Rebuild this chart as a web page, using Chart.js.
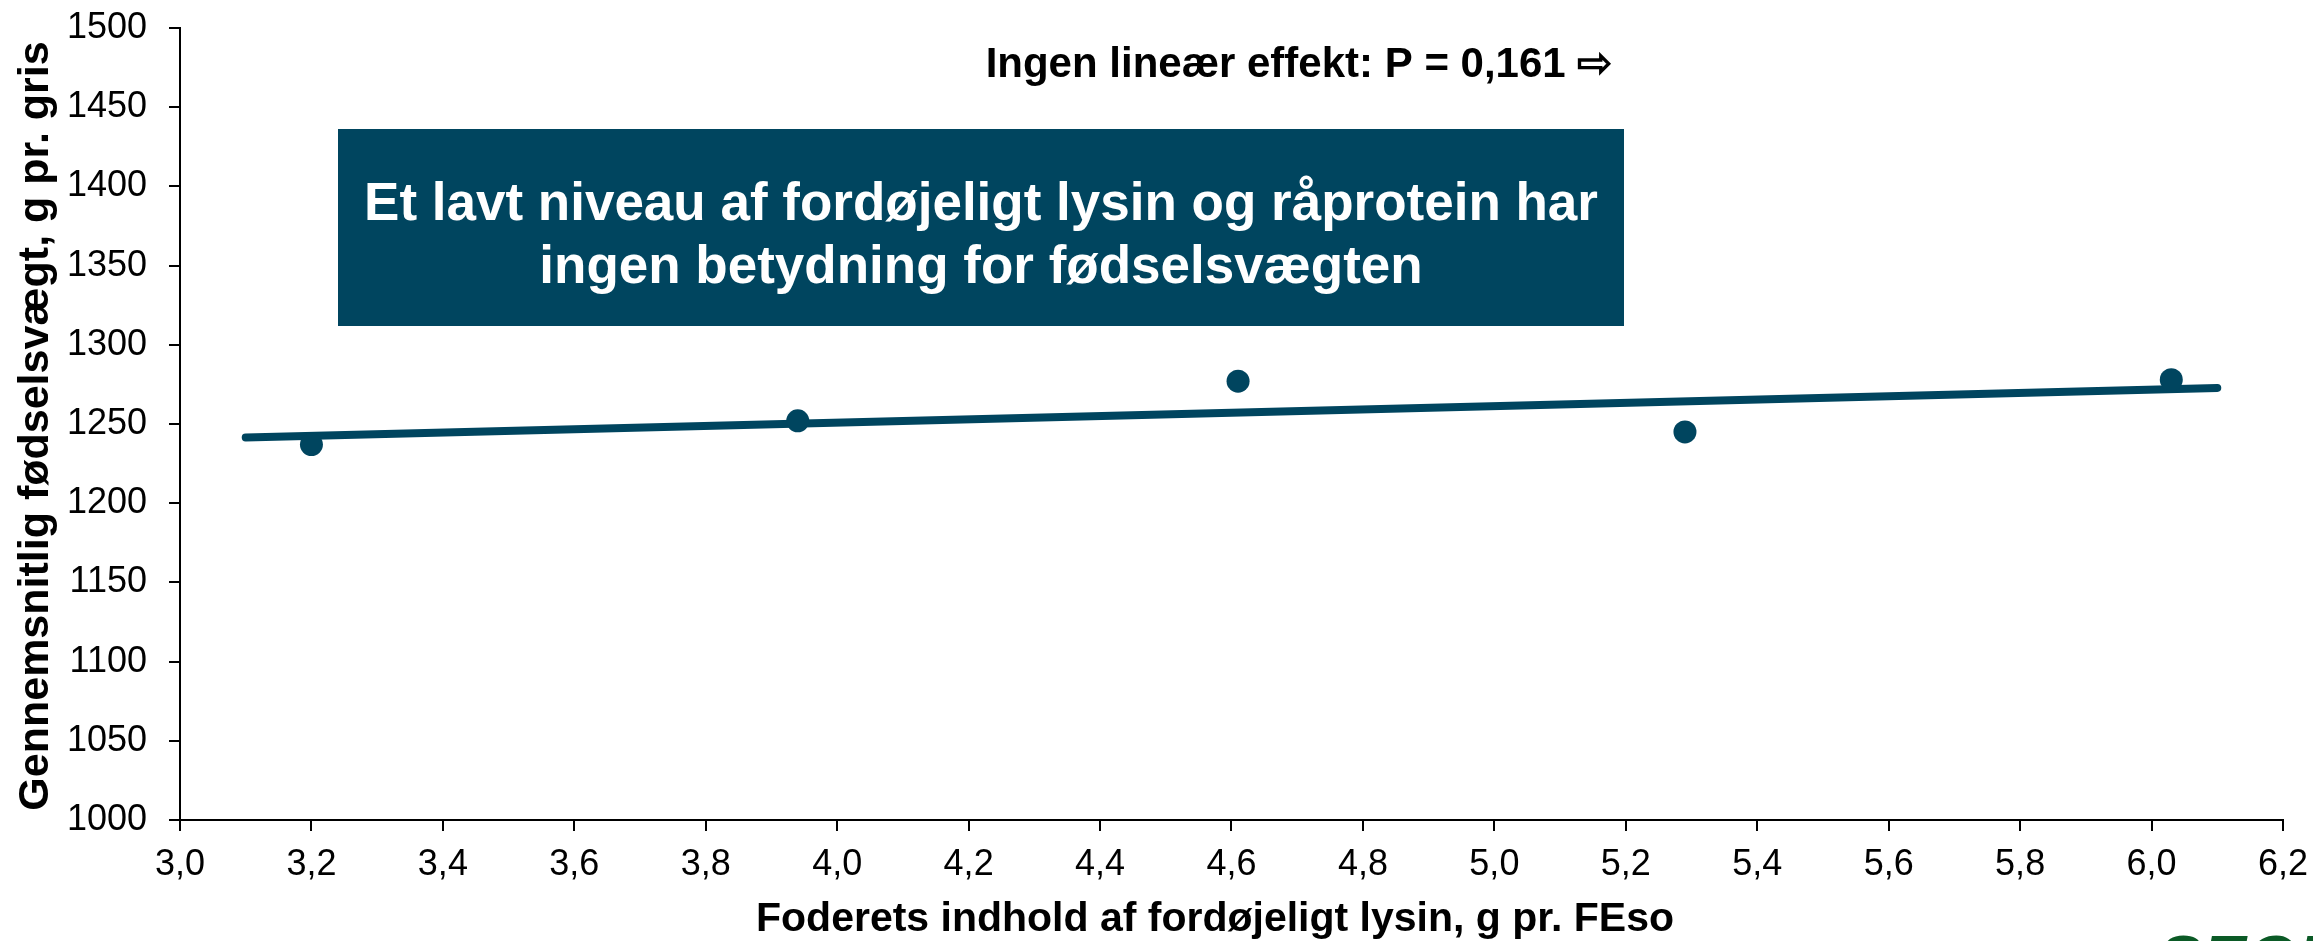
<!DOCTYPE html>
<html>
<head>
<meta charset="utf-8">
<script src="https://cdn.jsdelivr.net/npm/chart.js@4.4.1/dist/chart.umd.min.js"></script>
<style>
  html, body { margin: 0; padding: 0; background: #ffffff; }
  canvas { display: block; }
</style>
</head>
<body>
<canvas id="c" width="2313" height="941"></canvas>
<script>
// ---- data ----
const lysinX = [3.20, 3.94, 4.61, 5.29, 6.03];
const weightY = [1237, 1252, 1277, 1245, 1278];
const trendX = [3.1, 6.1];
const trendY = [1241.5, 1272.8];
const xTickLabels = ['3,0','3,2','3,4','3,6','3,8','4,0','4,2','4,4','4,6','4,8','5,0','5,2','5,4','5,6','5,8','6,0','6,2'];
const yTickLabels = ['1000','1050','1100','1150','1200','1250','1300','1350','1400','1450','1500'];
const xTitle = 'Foderets indhold af fordøjeligt lysin, g pr. FEso';
const yTitle = 'Gennemsnitlig fødselsvægt, g pr. gris';
const noteText = 'Ingen lineær effekt: P = 0,161 ⇨';
const boxLines = ['Et lavt niveau af fordøjeligt lysin og råprotein har', 'ingen betydning for fødselsvægten'];
const logoText = 'SEGES';

const BLUE = '#00455F';
const FONT = '"Liberation Sans", Arial, sans-serif';

const pointData = lysinX.map((x, i) => ({ x: x, y: weightY[i] }));
const trendData = trendX.map((x, i) => ({ x: x, y: trendY[i] }));

const overlay = {
  id: 'overlay',
  afterDraw(chart) {
    const ctx = chart.ctx;
    ctx.save();
    // annotation box
    ctx.fillStyle = BLUE;
    ctx.fillRect(338, 129, 1286, 197);
    ctx.fillStyle = '#ffffff';
    ctx.font = 'bold 53px ' + FONT;
    ctx.textAlign = 'center';
    ctx.textBaseline = 'alphabetic';
    ctx.fillText(boxLines[0], 981, 220);
    ctx.fillText(boxLines[1], 981, 283);
    // note text
    ctx.fillStyle = '#000000';
    ctx.font = 'bold 42px ' + FONT;
    ctx.fillText(noteText, 1299, 77);
    // x title
    ctx.font = 'bold 41px ' + FONT;
    ctx.fillText(xTitle, 1215, 931);
    // y title
    ctx.save();
    ctx.translate(48, 426);
    ctx.rotate(-Math.PI / 2);
    ctx.font = 'bold 43px ' + FONT;
    ctx.textAlign = 'center';
    ctx.fillText(yTitle, 0, 0);
    ctx.restore();
    // logo (cut off at bottom)
    ctx.fillStyle = '#0B5A26';
    ctx.font = 'italic bold 66px ' + FONT;
    ctx.textAlign = 'left';
    ctx.textBaseline = 'top';
    ctx.fillText(logoText, 2158, 931);
    ctx.restore();
  }
};

new Chart(document.getElementById('c'), {
  type: 'scatter',
  data: {
    datasets: [
      {
        label: 'Fødselsvægt',
        data: pointData,
        backgroundColor: BLUE,
        borderColor: BLUE,
        pointRadius: 11.5,
        pointHoverRadius: 11.5,
        pointBorderWidth: 0,
        showLine: false,
        order: 1
      },
      {
        label: 'Trend',
        data: trendData,
        borderColor: BLUE,
        backgroundColor: BLUE,
        borderWidth: 8,
        borderCapStyle: 'round',
        pointRadius: 0,
        showLine: true,
        fill: false,
        order: 2
      }
    ]
  },
  options: {
    responsive: false,
    devicePixelRatio: 1,
    animation: false,
    layout: { padding: { left: 0, right: 30, top: 28, bottom: 0 } },
    plugins: { legend: { display: false }, tooltip: { enabled: false } },
    scales: {
      x: {
        type: 'linear',
        position: 'bottom',
        min: 3.0,
        max: 6.2,
        afterFit(scale) { scale.height = 121; scale.paddingLeft = 0; scale.paddingRight = 0; },
        afterBuildTicks(scale) {
          scale.ticks = xTickLabels.map((t, i) => ({ value: 3.0 + i * 0.2 }));
        },
        ticks: {
          autoSkip: false,
          maxRotation: 0,
          padding: 12,
          color: '#000000',
          font: { family: FONT, size: 36 },
          callback: (v, i) => xTickLabels[i]
        },
        grid: { drawOnChartArea: false, drawTicks: true, tickLength: 11, tickColor: '#000000', lineWidth: 2 },
        border: { display: true, color: '#000000', width: 2 }
      },
      y: {
        type: 'linear',
        min: 1000,
        max: 1500,
        afterFit(scale) { scale.width = 180; scale.paddingTop = 0; scale.paddingBottom = 0; },
        afterBuildTicks(scale) {
          scale.ticks = yTickLabels.map(t => ({ value: Number(t) }));
        },
        ticks: {
          autoSkip: false,
          padding: 22,
          color: '#000000',
          font: { family: FONT, size: 36 },
          callback: (v, i) => yTickLabels[i]
        },
        grid: { drawOnChartArea: false, drawTicks: true, tickLength: 11, tickColor: '#000000', lineWidth: 2 },
        border: { display: true, color: '#000000', width: 2 }
      }
    }
  },
  plugins: [overlay]
});
</script>
</body>
</html>
